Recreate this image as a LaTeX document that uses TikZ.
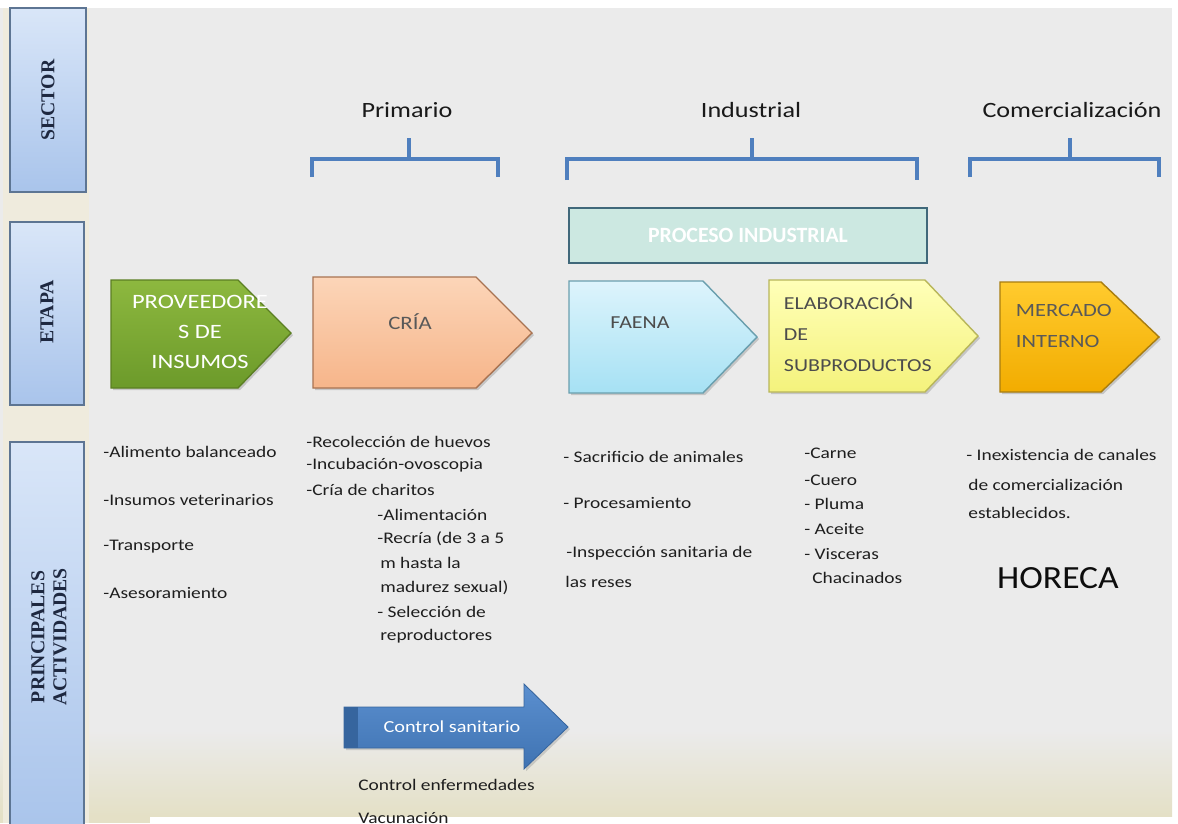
\documentclass[tikz,border=0pt]{standalone}
\usepackage{fontspec}
\setmainfont{Carlito}
\newfontfamily\sidefont{Liberation Serif}
\usetikzlibrary{shadows, positioning}

\definecolor{bggray}{HTML}{EBEBEB}
\definecolor{bgbeige}{HTML}{E4E0C6}
\definecolor{sidecream}{HTML}{EFEBDD}
\definecolor{sidetop}{HTML}{D9E6F8}
\definecolor{sidebot}{HTML}{A9C4EB}
\definecolor{sideline}{HTML}{5D7593}
\definecolor{sidetext}{HTML}{1E2840}
\definecolor{bracket}{HTML}{4F7FBE}
\definecolor{procfill}{HTML}{CCE8E1}
\definecolor{procline}{HTML}{40687A}
\definecolor{greentop}{HTML}{8DB83F}
\definecolor{greenbot}{HTML}{6C9A2A}
\definecolor{greenline}{HTML}{5B7F22}
\definecolor{peachtop}{HTML}{FCD5B8}
\definecolor{peachbot}{HTML}{F6B58A}
\definecolor{peachline}{HTML}{A87352}
\definecolor{cyantop}{HTML}{DDF4FC}
\definecolor{cyanbot}{HTML}{A6E1F4}
\definecolor{cyanline}{HTML}{6A9FAE}
\definecolor{yellowtop}{HTML}{FFFFB8}
\definecolor{yellowbot}{HTML}{F4F27C}
\definecolor{yellowline}{HTML}{B8B65A}
\definecolor{orangetop}{HTML}{FFCB2E}
\definecolor{orangebot}{HTML}{F2AC00}
\definecolor{orangeline}{HTML}{A87D10}
\definecolor{ctrltop}{HTML}{5B8FCF}
\definecolor{ctrlbot}{HTML}{3F73B2}
\definecolor{ctrldark}{HTML}{36659E}
\definecolor{acttext}{HTML}{1E1E1E}

\begin{document}
\begin{tikzpicture}[
    x=0.025cm, y=-0.025cm,
    sidebox/.style={draw=sideline, line width=1.2pt, top color=sidetop, bottom color=sidebot},
    sidelabel/.style={rotate=90, align=center, text=sidetext, font=\sidefont\bfseries\fontsize{14}{15.6}\selectfont},
    bracebar/.style={draw=bracket, line width=2.8pt},
    title/.style={font=\fontsize{15.5}{18}\selectfont, text=black!90, xscale=1.2},
    stage/.style={line width=1pt, drop shadow={opacity=0.35, shadow xshift=1.5pt, shadow yshift=-1.5pt}},
    stagetext/.style={align=center, xscale=1.2},
    act/.style={anchor=west, inner sep=0pt, text=acttext, font=\fontsize{11.5}{13}\selectfont, xscale=1.2}
  ]
  \useasboundingbox (0,0) rectangle (1178,823);

  % background
  \fill[white] (0,0) rectangle (1178,823);
  \fill[bggray] (0,8) rectangle (1172,816);
  \shade[top color=bggray, bottom color=bgbeige] (0,730) rectangle (1172,816);
  \fill[bgbeige] (0,816) rectangle (150,823);
  \fill[sidecream] (3,8) rectangle (89,823);

  % left column
  \draw[sidebox] (10,8) rectangle (86,192);
  \draw[sidebox] (10,222) rectangle (84,405);
  \draw[sidebox] (10,442) rectangle (84,830);
  \node[sidelabel] (sector) at (48,100) {SECTOR};
  \node[sidelabel] (etapa) at (47,312) {ETAPA};
  \node[sidelabel] (actividades) at (49,637) {PRINCIPALES\\ACTIVIDADES};

  % sectors
  \node[title] (primario) at (407,110) {Primario};
  \node[title] (industrial) at (751,110) {Industrial};
  \node[title] (comercial) at (1072,110) {Comercialización};

  \draw[bracebar] (312,177) |- (498,159) -- (498,177);
  \draw[bracebar] (409,159) -- (409,138);
  \draw[bracebar] (567,180) |- (917,159) -- (917,180);
  \draw[bracebar] (752,159) -- (752,138);
  \draw[bracebar] (970,177) |- (1159,159) -- (1159,177);
  \draw[bracebar] (1070,159) -- (1070,138);

  \node[draw=procline, line width=1.5pt, fill=procfill, minimum width=8.95cm, minimum height=1.375cm,
        text=white, font=\bfseries\fontsize{15.5}{18}\selectfont] (proceso) at (748,235.5) {PROCESO INDUSTRIAL};

  % stages
  \draw[stage, draw=greenline, top color=greentop, bottom color=greenbot]
    (111,280) -- (238,280) -- (291,333) -- (238,388) -- (111,388) -- cycle;
  \draw[stage, draw=peachline, top color=peachtop, bottom color=peachbot]
    (313,277) -- (476,277) -- (532,333) -- (476,388) -- (313,388) -- cycle;
  \draw[stage, draw=cyanline, top color=cyantop, bottom color=cyanbot]
    (569,281) -- (703,281) -- (757,337) -- (703,393) -- (569,393) -- cycle;
  \draw[stage, draw=yellowline, top color=yellowtop, bottom color=yellowbot]
    (769,280) -- (925,280) -- (978,336) -- (925,392) -- (769,392) -- cycle;
  \draw[stage, draw=orangeline, top color=orangetop, bottom color=orangebot]
    (1000,282) -- (1101,282) -- (1159,337) -- (1101,392) -- (1000,392) -- cycle;

  \node[stagetext, text=white, font=\fontsize{14.5}{21.3}\selectfont] (proveedores) at (200,332) {PROVEEDORE\\S DE\\INSUMOS};
  \node[stagetext, text=black!65, font=\fontsize{13.5}{16}\selectfont] (cria) at (410,322) {CRÍA};
  \node[stagetext, text=black!70, font=\fontsize{13}{16}\selectfont] (faena) at (640,323) {FAENA};
  \node[stagetext, anchor=west, align=left, text=black!70, font=\fontsize{13}{22}\selectfont] (elaboracion) at (778,333) {ELABORACIÓN\\DE\\SUBPRODUCTOS};
  \node[stagetext, anchor=west, align=left, text=black!65, font=\fontsize{13.3}{22.7}\selectfont] (mercado) at (1010,326) {MERCADO\\INTERNO};

  % activities: proveedores
  \node[act] (alimento) at (103,452) {-Alimento balanceado};
  \node[act] (insumos) at (103,500) {-Insumos veterinarios};
  \node[act] (transporte) at (103,547) {-Transporte};
  \node[act] (asesor) at (103,593) {-Asesoramiento};

  % activities: cria
  \node[act] (recoleccion) at (306,442) {-Recolección de huevos};
  \node[act] (incubacion) at (306,465) {-Incubación-ovoscopia};
  \node[act] (charitos) at (306,490) {-Cría de charitos};
  \node[act] (alimentacion) at (377,515) {-Alimentación};
  \node[act] (recria) at (377,539) {-Recría (de 3 a 5};
  \node[act] (recria2) at (380,563) {m hasta la};
  \node[act] (recria3) at (380,588) {madurez sexual)};
  \node[act] (seleccion) at (377,612) {- Selección de};
  \node[act] (reproductores) at (380,636) {reproductores};

  % activities: faena
  \node[act] (sacrificio) at (563,457) {- Sacrificio de animales};
  \node[act] (procesamiento) at (563,503) {- Procesamiento};
  \node[act] (inspeccion) at (566,553) {-Inspección sanitaria de};
  \node[act] (reses) at (565,582) {las reses};

  % activities: subproductos
  \node[act] (carne) at (804,453) {-Carne};
  \node[act] (cuero) at (804,480) {-Cuero};
  \node[act] (pluma) at (804,504) {- Pluma};
  \node[act] (aceite) at (804,529) {- Aceite};
  \node[act] (visceras) at (804,554) {- Visceras};
  \node[act] (chacinados) at (812,578) {Chacinados};

  % activities: mercado
  \node[act] (inexistencia) at (966,455) {- Inexistencia de canales};
  \node[act] (canales) at (968,485) {de comercialización};
  \node[act] (establecidos) at (968,513) {establecidos.};
  \node[font=\fontsize{23}{23}\selectfont, xscale=1.1, text=black!95] (horeca) at (1058,578) {HORECA};

  % control sanitario
  \draw[drop shadow={opacity=0.3, shadow xshift=1.5pt, shadow yshift=-1.5pt}, top color=ctrltop, bottom color=ctrlbot, draw=ctrldark, line width=0.6pt]
    (344,707) -- (524,707) -- (524,684) -- (568,727) -- (524,769) -- (524,748) -- (344,748) -- cycle;
  \fill[ctrldark] (344,707) rectangle (358,748);
  \node[stagetext, text=white, font=\fontsize{12}{14}\selectfont] (control) at (452,727) {Control sanitario};
  \node[act] (enfermedades) at (358,785) {Control enfermedades};
  \node[act] (vacunacion) at (358,818) {Vacunación};
\end{tikzpicture}
\end{document}
